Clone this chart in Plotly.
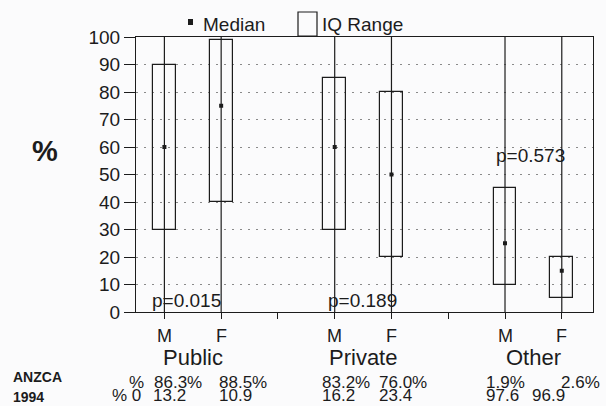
import plotly.graph_objects as go

# Summary of percentage by sector and sex
groups = ["Public", "Private", "Other"]
sexes = ["M", "F", "M", "F", "M", "F"]
x_pos = [1, 2, 4, 5, 7, 8]
q1 = [30, 40, 30, 20, 10, 5]
median = [60, 75, 60, 50, 25, 15]
q3 = [90, 99, 85, 80, 45, 20]
range_lo = [0, 0, 0, 0, 0, 0]
range_hi = [100, 100, 100, 100, 100, 100]
p_values = ["p=0.015", "p=0.189", "p=0.573"]
anzca_pct = ["86.3%", "88.5%", "83.2%", "76.0%", "1.9%", "2.6%"]
anzca_pct0 = ["13.2", "10.9", "16.2", "23.4", "97.6", "96.9"]

W, H = 606, 406
L, R, T, B = 136, 13, 37, 94
PW, PH = W - L - R, H - T - B
FONT = "Liberation Sans, Arial, sans-serif"
INK = "#1c1c1c"


def px(x):
    return (x - L) / PW


def py(y):
    return (H - B - y) / PH


def label(x, y, text, size, xanchor="left", yanchor="middle", xref="paper"):
    return dict(x=x, y=y, xref=xref, yref="paper", text=text, showarrow=False,
                xanchor=xanchor, yanchor=yanchor, borderpad=0,
                font=dict(size=size, color=INK, family=FONT))


fig = go.Figure()

# full-range vertical lines
lx, ly = [], []
for x, lo, hi in zip(x_pos, range_lo, range_hi):
    lx += [x, x, None]
    ly += [lo, hi, None]
fig.add_trace(go.Scatter(x=lx, y=ly, mode="lines",
                         line=dict(color=INK, width=1.2),
                         hoverinfo="skip", showlegend=False))

# interquartile boxes
fig.add_trace(go.Bar(x=x_pos, y=[b - a for a, b in zip(q1, q3)], base=q1,
                     width=0.4, marker=dict(color="rgba(0,0,0,0)",
                                            line=dict(color=INK, width=1.2)),
                     showlegend=False))

# medians
fig.add_trace(go.Scatter(x=x_pos, y=median, mode="markers",
                         marker=dict(symbol="square", size=4, color=INK),
                         showlegend=False))

ann = []
# p-values
p_spots = [(151, 300), (327, 300), (495, 155)]
for txt, (ax, ay) in zip(p_values, p_spots):
    ann.append(label(px(ax), py(ay), txt, 19))

# sex labels under ticks
for x, s in zip(x_pos, sexes):
    ann.append(label(x, py(336), s, 18, xanchor="center", xref="x"))

# group labels
for g, c in zip(groups, [1.5, 4.5, 7.5]):
    ann.append(label(c, py(357), g, 22, xanchor="center", xref="x"))

# y-axis title
ann.append(label(px(45), py(151), "<b>%</b>", 29, xanchor="center"))

# ANZCA 1994 reference rows
ann.append(label(px(12), py(386), "<b>ANZCA</b>", 14, yanchor="bottom"))
ann.append(label(px(12), py(406), "<b>1994</b>", 14, yanchor="bottom"))
ann.append(label(px(128), py(393), "%", 17, yanchor="bottom"))
ann.append(label(px(111), py(406), "% 0", 17, yanchor="bottom"))
row1_x = [153, 218, 321, 378, 485, 560]
row2_x = [152, 218, 321, 378, 485, 531]
for txt, ax in zip(anzca_pct, row1_x):
    ann.append(label(px(ax), py(393), txt, 17, yanchor="bottom"))
for txt, ax in zip(anzca_pct0, row2_x):
    ann.append(label(px(ax), py(406), txt, 17, yanchor="bottom"))

# legend
ann.append(label(px(202), py(25), "Median", 19))
ann.append(label(px(321), py(25), "IQ Range", 19))
shapes = [
    dict(type="rect", xref="paper", yref="paper", x0=px(188), x1=px(193),
         y0=py(25), y1=py(19), fillcolor=INK, line=dict(width=0)),
    dict(type="rect", xref="paper", yref="paper", x0=px(298), x1=px(317),
         y0=py(36), y1=py(12), fillcolor="rgba(0,0,0,0)",
         line=dict(color=INK, width=1.2)),
]

fig.update_layout(
    width=W, height=H,
    margin=dict(l=L, r=R, t=T, b=B),
    paper_bgcolor="#fbfbfc", plot_bgcolor="#fbfbfc",
    font=dict(family=FONT, color=INK),
    showlegend=False,
    annotations=ann, shapes=shapes,
    bargap=0,
    xaxis=dict(range=[0.5, 8.55], tickvals=[1, 2, 3, 4, 5, 6, 7, 8],
               showticklabels=False, ticks="outside", ticklen=6,
               tickcolor=INK, showline=True, linecolor=INK, linewidth=1.2,
               mirror=True, showgrid=False, zeroline=False),
    yaxis=dict(range=[0, 100], tickvals=list(range(0, 101, 10)),
               ticks="outside", ticklen=11, tickcolor=INK,
               tickfont=dict(size=19, color=INK, family=FONT),
               showline=True, linecolor=INK, linewidth=1.2, mirror=True,
               showgrid=True, gridcolor="#8a8a8a", gridwidth=1,
               griddash="2px,6px", zeroline=False),
)

fig.write_html("out.html")
